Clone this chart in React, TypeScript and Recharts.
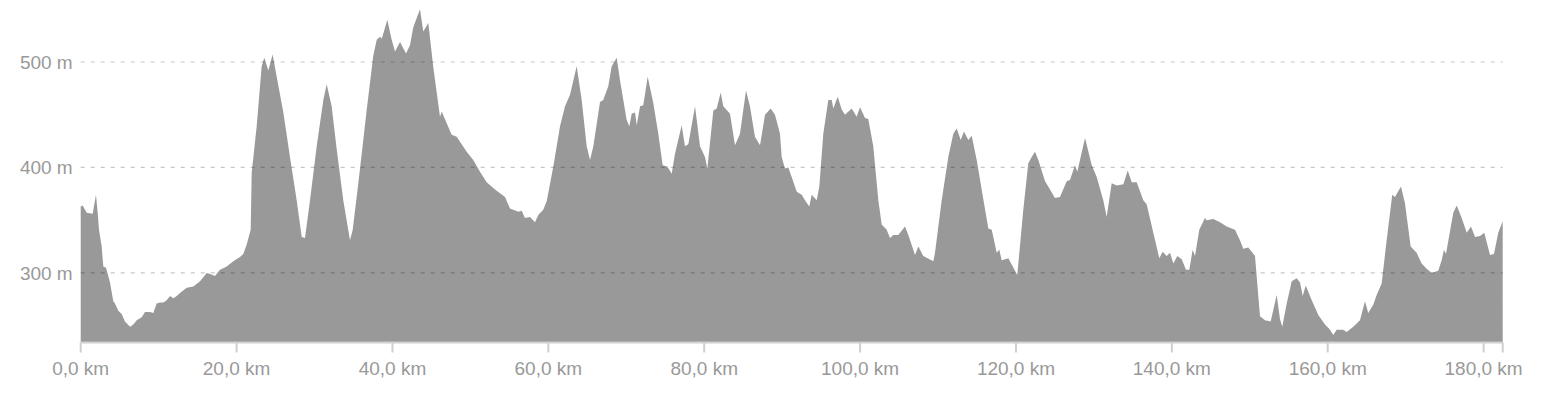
import { Area, AreaChart, ReferenceLine, XAxis, YAxis } from 'recharts'

// distance along the route (km) and elevation (m)
const distances = [
  0, 0.26, 0.55, 0.77, 1.54, 1.96, 2.18, 2.35, 2.69, 2.9, 3.25, 3.76, 4.18, 4.4, 4.82, 5.26, 5.68, 6.33,
  6.75, 7.19, 7.83, 8.25, 8.89, 9.31, 9.75, 10.17, 10.6, 11.03, 11.46, 11.88, 12.32, 12.74, 13.6, 14.45,
  15.31, 16.17, 16.59, 17.23, 17.87, 18.73, 19.58, 20.44, 20.86, 21.3, 21.81, 21.94, 22.58, 23.22, 23.56,
  24.07, 24.63, 25.15, 26, 26.85, 27.71, 28.36, 28.78, 29.42, 30.28, 31.13, 31.56, 32.2, 32.85, 33.69,
  34.55, 34.9, 35.62, 36.26, 36.7, 37.54, 37.98, 38.4, 38.62, 38.83, 39.34, 39.9, 40.33, 40.97, 41.74,
  42.25, 42.67, 43.53, 43.96, 44.6, 45.24, 46.1, 46.32, 46.96, 47.6, 48.24, 49.52, 50.37, 51.23, 52.09,
  53.16, 54.44, 55.08, 56.15, 56.58, 57, 57.65, 58.29, 58.71, 59.35, 59.79, 60.64, 61.5, 62.14, 62.78,
  63.64, 64.28, 64.92, 65.35, 65.77, 66.63, 67.05, 67.69, 68.13, 68.77, 69.19, 70.05, 70.39, 70.7, 71.12,
  71.34, 71.77, 72.18, 72.75, 73.47, 74.11, 74.67, 75.26, 75.83, 76.25, 77.11, 77.53, 77.96, 78.82, 79.46,
  80.1, 80.4, 81.17, 81.6, 82.11, 82.45, 83.31, 83.95, 84.59, 85.36, 85.87, 86.51, 87.16, 87.8, 88.53,
  89.08, 89.72, 89.94, 90.36, 90.79, 91.22, 91.87, 92.51, 92.93, 93.48, 93.79, 94.43, 94.77, 95.28, 95.92,
  96.36, 96.56, 97.13, 97.64, 98.06, 98.92, 99.56, 99.99, 100.63, 101.05, 101.69, 102.34, 102.77, 103.41,
  103.84, 104.26, 104.9, 105.76, 106.19, 107.05, 107.47, 108.11, 109.4, 109.61, 110.47, 111.32, 111.96,
  112.4, 112.91, 113.33, 113.88, 114.32, 114.96, 115.6, 116.45, 116.89, 117.53, 117.86, 118.17, 119.02,
  119.45, 120.17, 120.94, 121.58, 122.02, 122.44, 122.87, 123.73, 124.37, 125, 125.65, 126.51, 126.93,
  127.57, 127.87, 128.86, 129.72, 130.36, 131.2, 131.64, 132.28, 132.93, 133.78, 134.34, 134.85, 135.49,
  136.34, 136.77, 137.62, 138.39, 138.83, 139.34, 139.77, 140.19, 140.7, 141.27, 141.81, 142.24, 142.67,
  142.97, 143.52, 144.25, 144.47, 145.32, 146.18, 147.04, 148.1, 148.74, 149.17, 149.81, 150.67, 150.96,
  151.31, 151.95, 152.68, 153.45, 153.88, 154.17, 154.74, 155.38, 156.02, 156.45, 156.79, 157.18, 157.95,
  158.79, 159.65, 160.29, 160.71, 161.15, 161.99, 162.43, 163.28, 164.14, 164.78, 165.2, 165.85, 166.28,
  166.92, 167.56, 168.28, 168.63, 169.4, 169.91, 170.64, 171.41, 172.05, 172.69, 173.34, 174.18, 174.62,
  174.91, 175.17, 176.11, 176.55, 177.19, 177.83, 178.38, 178.9, 179.54, 180.09, 180.82, 181.33, 181.88,
  182.45,
]

const elevations = [
  363, 364, 360, 357, 356, 374, 357, 341, 325, 306, 305, 291, 273, 271, 264, 261, 254, 249,
  251, 255, 258, 263, 263, 262, 271, 272, 272, 274, 278, 276, 278, 281, 286, 287,
  292, 300, 299, 297, 303, 306, 311, 315, 318, 327, 341, 395, 439, 496, 504,
  492, 507, 486, 452, 410, 369, 334, 333, 369, 420, 464, 479, 458, 417, 369,
  331, 341, 385, 426, 455, 506, 521, 524, 522, 527, 540, 521, 510, 519, 508,
  516, 533, 550, 529, 537, 495, 448, 453, 442, 431, 429, 415, 407, 396, 386,
  379, 372, 361, 358, 359, 352, 353, 348, 355, 360, 368, 401, 439, 458, 469,
  496, 464, 420, 407, 420, 462, 464, 477, 496, 504, 483, 445, 439, 451, 452,
  440, 458, 459, 486, 461, 432, 402, 401, 394, 413, 440, 420, 422, 458, 420,
  410, 399, 454, 456, 471, 458, 451, 421, 432, 473, 458, 429, 421, 450, 456,
  450, 432, 410, 399, 400, 391, 377, 374, 369, 363, 374, 369, 382, 432, 464,
  464, 456, 467, 455, 450, 456, 448, 457, 447, 446, 420, 369, 346, 341,
  333, 336, 336, 344, 336, 317, 325, 316, 311, 319, 369, 410, 432,
  437, 426, 434, 426, 430, 407, 379, 342, 341, 319, 322, 312, 314,
  308, 298, 360, 404, 410, 415, 407, 387, 379, 371, 372, 387, 388,
  402, 396, 428, 402, 391, 369, 353, 385, 383, 384, 397, 386, 386,
  369, 365, 338, 314, 320, 316, 319, 309, 316, 313, 303, 303, 322,
  316, 341, 352, 350, 351, 348, 344, 341, 331, 323, 324, 316, 290,
  259, 255, 254, 279, 256, 249, 271, 292, 295, 291, 278, 288, 274,
  260, 251, 246, 241, 246, 246, 244, 249, 255, 273, 262, 270, 279,
  290, 331, 374, 372, 382, 366, 325, 319, 309, 304, 300, 302, 312,
  322, 318, 357, 364, 352, 338, 344, 334, 335, 338, 317, 318, 338,
  349,
]

const xTicks = [0, 20, 40, 60, 80, 100, 120, 140, 160, 180, 182.45]
const yTicks = [300, 400, 500]

const data = distances.map((km, i) => ({ km, elevation: elevations[i] }))

const font = '"Liberation Sans", Helvetica, Arial, sans-serif'
const labelStyle = { fontSize: 19, fill: '#999', fontFamily: font }

export default function App() {
  return (
    <div style={{ position: 'absolute', left: 0, top: 0 }}>
      <AreaChart width={1543} height={405} data={data} margin={{ top: 4, right: 40.3, left: 0, bottom: 0 }}>
        <XAxis
          dataKey="km"
          type="number"
          domain={[0, 182.45]}
          ticks={xTicks}
          interval={0}
          tickFormatter={(v: number) => (v > 181 ? '' : `${v.toFixed(1).replace('.', ',')} km`)}
          tick={labelStyle}
          axisLine={{ stroke: '#cfcfcf', strokeWidth: 2 }}
          tickLine={{ stroke: '#cfcfcf', strokeWidth: 2 }}
          tickSize={10}
          tickMargin={9}
          height={62.5}
        />
        <YAxis
          type="number"
          domain={[234, 555]}
          allowDataOverflow
          ticks={yTicks}
          tickFormatter={(v: number) => `${v} m`}
          tick={labelStyle}
          axisLine={false}
          tickLine={false}
          width={80.7}
        />
        <Area
          type="linear"
          dataKey="elevation"
          stroke="none"
          fill="#999999"
          fillOpacity={1}
          isAnimationActive={false}
        />
        {yTicks.map((y) => (
          <ReferenceLine key={y} y={y} stroke="rgba(0,0,0,0.22)" strokeWidth={1.2} strokeDasharray="4 6" />
        ))}
      </AreaChart>
    </div>
  )
}
